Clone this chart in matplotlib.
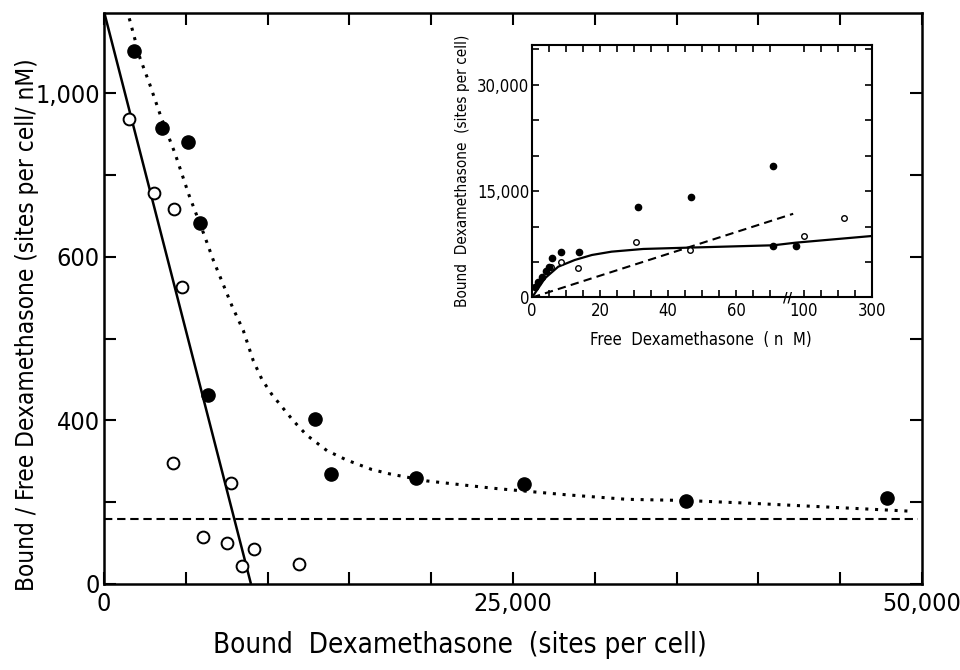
import matplotlib
matplotlib.use("Agg")
import matplotlib.pyplot as plt
import matplotlib.transforms as mtransforms
from matplotlib.ticker import FixedLocator, FixedFormatter
import numpy as np

plt.rcParams["font.family"] = ["DejaVu Sans"]
plt.rcParams["font.stretch"] = "condensed"

# main panel (bound/free vs bound)
filled_bound = [1815, 3563, 5116, 5868, 6375, 12896, 13874, 19051, 25689, 35572, 47875]
filled_ratio = [1103, 914, 880, 683, 431, 402, 269, 260, 244, 204, 211]
open_bound = [1546, 3074, 4278, 4786, 4199, 7744, 6033, 7536, 9186, 8453, 11937]
open_ratio = [936, 756, 717, 563, 295, 246, 116, 101, 86, 45, 49]

line_bound = [0, 8985]
line_ratio = [1200, 0]

curve_bound = [1546, 2200, 2769, 3484, 4340, 5195, 6130, 6680, 7292, 7842, 8514, 9125,
               9657, 10250, 11552, 12389, 13630, 14834, 16362, 17480, 19723, 21961,
               23794, 26037, 28280, 31943, 35615, 39685, 43762, 49263]
curve_ratio = [1183, 1086, 1025, 942, 853, 751, 653, 596, 566, 539, 510, 473,
               450, 432, 400, 364, 326, 303, 280, 269, 252, 242,
               234, 226, 218, 207, 204, 197, 189, 178]

nonspecific_ratio = 158

x_major = [0, 25000, 50000]
x_major_labels = ["0", "25,000", "50,000"]
x_minor = [5000, 10000, 15000, 20000, 30000, 35000, 40000, 45000]
y_major = [0, 400, 600, 1000]
y_major_labels = ["0", "400", "600", "1,000"]
y_minor = [200, 500, 800]

# inset (bound vs free)
in_filled_free = [71, 46.8, 31.1, 8.5, 13.8, 5.8, 5.0, 4.0, 2.85, 1.85, 0.9, 71, 88]
in_filled_bound = [18540, 14170, 12800, 6460, 6460, 5530, 4340, 3780, 2930, 2230, 1440, 7260, 7260]
in_open_free = [30.7, 46.5, 100, 218, 8.5, 13.4, 5.5]
in_open_bound = [7760, 6700, 8670, 11250, 4960, 4200, 4300]
in_curve_free = [0, 3.8, 7.7, 12.6, 17.6, 23.4, 32.7, 45.5, 71, 88, 300]
in_curve_bound = [0, 2710, 4340, 5290, 5990, 6460, 6840, 7020, 7360, 7730, 8670]
in_dash_free = [0, 84]
in_dash_bound = [0, 11800]

in_x_major = [0, 20, 40, 60, 100, 300]
in_x_major_labels = ["0", "20", "40", "60", "100", "300"]
in_x_minor = [5, 10, 15, 25, 30, 35, 45, 50, 55, 65, 70, 150, 200, 250]
in_y_major = [0, 15000, 30000]
in_y_major_labels = ["0", "15,000", "30,000"]
in_y_minor = [5000, 10000, 20000, 25000, 35000]


# the printed y axis is not evenly scaled: 0-400, 400-600, 600-1000 take equal room
def y_fwd(v):
    return np.interp(v, [-1000, 0, 400, 600, 1000, 3000], [-5, 0, 2, 4, 6, 16])


def y_inv(p):
    return np.interp(p, [-5, 0, 2, 4, 6, 16], [-1000, 0, 400, 600, 1000, 3000])


# inset x axis is broken after 75 nM
def x_fwd(v):
    return np.interp(v, [-100, 0, 75, 100, 300, 1000], [-20, 0, 15, 16, 20, 34])


def x_inv(p):
    return np.interp(p, [-20, 0, 15, 16, 20, 34], [-100, 0, 75, 100, 300, 1000])


fig = plt.figure(figsize=(9.6, 6.7), dpi=100)
ax = fig.add_axes([0.1083, 0.1284, 0.8521, 0.8522])
ax.set_yscale("function", functions=(y_fwd, y_inv))

ax.plot(line_bound, line_ratio, color="black", lw=1.8, solid_capstyle="butt")
ax.plot(curve_bound, curve_ratio, color="black", lw=2.2, linestyle=(0, (1, 2.2)))
ax.axhline(nonspecific_ratio, xmin=0, xmax=0.995, color="black", lw=1.5, linestyle=(0, (4, 2.3)))
ax.plot(open_bound, open_ratio, "o", ms=8.5, mfc="white", mec="black", mew=1.4, zorder=3)
ax.plot(filled_bound, filled_ratio, "o", ms=9.5, color="black", zorder=3)

ax.set_xlim(0, 50000)
ax.set_ylim(0, 1196)
ax.xaxis.set_major_locator(FixedLocator(x_major))
ax.xaxis.set_major_formatter(FixedFormatter(x_major_labels))
ax.xaxis.set_minor_locator(FixedLocator(x_minor))
ax.yaxis.set_major_locator(FixedLocator(y_major))
ax.yaxis.set_major_formatter(FixedFormatter(y_major_labels))
ax.yaxis.set_minor_locator(FixedLocator(y_minor))
ax.yaxis.set_minor_formatter(FixedFormatter([]))
ax.tick_params(which="both", direction="in", top=True, right=True, length=8.5, width=1.5)
ax.tick_params(axis="x", labelsize=18, pad=6)
ax.tick_params(axis="y", labelsize=18, pad=3)
for s in ax.spines.values():
    s.set_linewidth(1.8)

fig.text(460 / 960, 1 - 645 / 670, "Bound  Dexamethasone  (sites per cell)",
         ha="center", va="center", fontsize=20)
fig.text(27 / 960, 1 - 325 / 670, "Bound / Free Dexamethasone (sites per cell/ nM)",
         ha="center", va="center", rotation=90, fontsize=17.5)

# inset
ax_in = fig.add_axes([0.5542, 0.556, 0.3542, 0.3769])
ax_in.set_xscale("function", functions=(x_fwd, x_inv))
ax_in.plot(in_curve_free, in_curve_bound, color="black", lw=1.6)
ax_in.plot(in_dash_free, in_dash_bound, color="black", lw=1.5, linestyle=(0, (4, 2.5)))
ax_in.plot(in_open_free, in_open_bound, "o", ms=4, mfc="white", mec="black", mew=1.0, zorder=3)
ax_in.plot(in_filled_free, in_filled_bound, "o", ms=4.5, color="black", zorder=3)
ax_in.set_xlim(0, 300)
ax_in.set_ylim(0, 35600)
ax_in.xaxis.set_major_locator(FixedLocator(in_x_major))
ax_in.xaxis.set_major_formatter(FixedFormatter(in_x_major_labels))
ax_in.xaxis.set_minor_locator(FixedLocator(in_x_minor))
ax_in.xaxis.set_minor_formatter(FixedFormatter([]))
ax_in.yaxis.set_major_locator(FixedLocator(in_y_major))
ax_in.yaxis.set_major_formatter(FixedFormatter(in_y_major_labels))
ax_in.yaxis.set_minor_locator(FixedLocator(in_y_minor))
ax_in.tick_params(which="both", direction="in", top=True, right=True, length=5, width=1.2,
                  labelsize=12)
ax_in.tick_params(axis="x", pad=3)
ax_in.tick_params(axis="y", pad=2)
for s in ax_in.spines.values():
    s.set_linewidth(1.5)
brk = mtransforms.blended_transform_factory(ax_in.transData, ax_in.transAxes)
ax_in.text(75, 0, "//", transform=brk, ha="center", va="center", fontsize=10,
           fontweight="bold", clip_on=False)

fig.text(701 / 960, 1 - 340 / 670, "Free  Dexamethasone  ( n  M)",
         ha="center", va="center", fontsize=12)
fig.text(462 / 960, 1 - 171 / 670, "Bound  Dexamethasone  (sites per cell)",
         ha="center", va="center", rotation=90, fontsize=11)

fig.savefig("out.png", dpi=100)
